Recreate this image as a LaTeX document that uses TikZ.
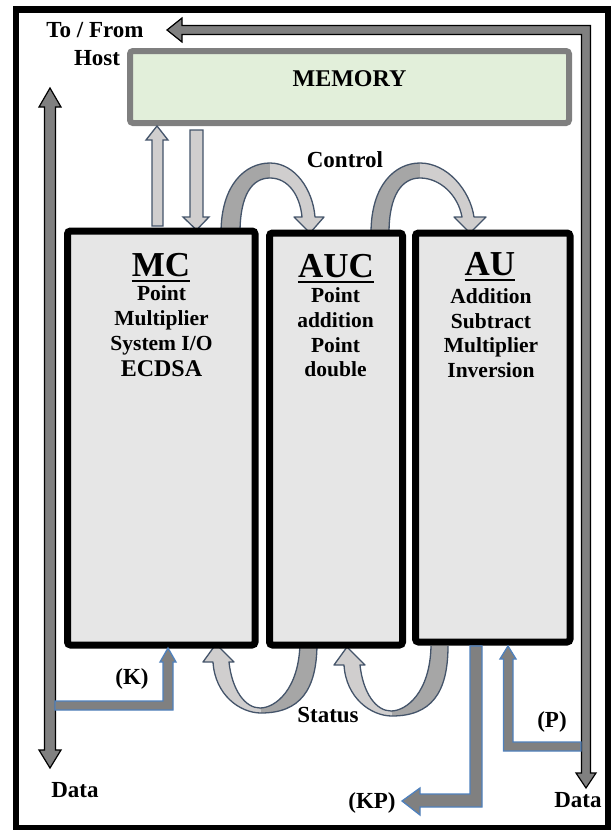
\documentclass[tikz,border=0pt]{standalone}
\usepackage{fontspec}
\setmainfont{Liberation Serif}
\definecolor{boxgray}{HTML}{E6E6E6}
\definecolor{memgreen}{HTML}{E2EFDA}
\definecolor{memedge}{HTML}{7F7F7F}
\definecolor{arrowgray}{HTML}{808080}
\definecolor{bluedge}{HTML}{4F81BD}
\definecolor{slate}{HTML}{44546A}
\definecolor{ribdark}{HTML}{A6A6A6}
\definecolor{riblight}{HTML}{D0CECE}
\begin{document}
\begin{tikzpicture}[x=1pt,y=-1pt,
  bigarrow/.style={fill=arrowgray, draw=black, line width=1.2pt},
  blockarrow/.style={fill=arrowgray, draw=bluedge, line width=1.3pt},
  memarrow/.style={fill=riblight, draw=slate, line width=1.3pt},
  ribedge/.style={draw=slate, line width=1.3pt, line join=round},
  unitbox/.style={draw=black, line width=7pt, fill=boxgray, rounded corners=3pt, inner sep=0pt},
  membox/.style={draw=memedge, line width=6pt, fill=memgreen, rounded corners=3pt, inner sep=0pt},
  lbl/.style={font=\fontsize{23}{23}\selectfont\bfseries, inner sep=0pt, anchor=base},
  ln/.style={font=\fontsize{21.5}{21.5}\selectfont\bfseries, inner sep=0pt, anchor=base},
  lnbig/.style={font=\fontsize{24}{24}\selectfont\bfseries, inner sep=0pt, anchor=base},
  ttl/.style={font=\fontsize{35}{35}\selectfont\bfseries, inner sep=0pt, anchor=base},
  uline/.style={line width=2.3pt}]
\useasboundingbox (0,0) rectangle (611,830);
% outer frame
\draw[line width=6.5pt] (16,9.3) rectangle (608,828);

% To/From Host <-> Data (right) arrow
\path[bigarrow] (167,30) -- (182,18) -- (182,25.5) -- (590.5,25.5) -- (590.5,773)
  -- (596,773) -- (586,788) -- (576,773) -- (581.5,773) -- (581.5,34.5)
  -- (182,34.5) -- (182,42) -- cycle;
% left Data double arrow
\path[bigarrow] (50,88) -- (61,107) -- (55.5,107) -- (55.5,750) -- (61,750)
  -- (50,768) -- (39,750) -- (44.5,750) -- (44.5,107) -- (39,107) -- cycle;

% memory
\node[membox, minimum width=439pt, minimum height=72pt] (mem) at (349.5,87) {};

% memory <-> MC arrows
\path[memarrow] (157,126) -- (168,140) -- (163,140) -- (163,226) -- (152,226)
  -- (152,140) -- (146,140) -- cycle;
\path[memarrow] (190,130) -- (203,130) -- (203,217) -- (209,217) -- (196.5,230)
  -- (183,217) -- (190,217) -- cycle;

% control arc 1 (MC -> AUC)
\path[fill=ribdark] (221,233) .. controls (221,185) and (245,163) .. (270,163)
  -- (270,178) .. controls (252,178) and (240,195) .. (240,233) -- cycle;
\path[fill=riblight] (270,163) .. controls (295,163) and (313,190) .. (315,217)
  -- (324,217) -- (310,233) -- (294,217) -- (302,217)
  .. controls (300,195) and (288,178) .. (270,178) -- cycle;
\path[ribedge] (221,233) .. controls (221,185) and (245,163) .. (270,163)
  .. controls (295,163) and (313,190) .. (315,217) -- (324,217) -- (310,233)
  -- (294,217) -- (302,217) .. controls (300,195) and (288,178) .. (270,178)
  .. controls (252,178) and (240,195) .. (240,233);
% control arc 2 (AUC -> AU)
\path[fill=ribdark] (371,233) .. controls (371,185) and (395,163) .. (420,163)
  -- (420,178) .. controls (402,178) and (389,195) .. (389,233) -- cycle;
\path[fill=riblight] (420,163) .. controls (447,163) and (470,190) .. (474,217)
  -- (486,217) -- (470,233) -- (454,217) -- (462,217)
  .. controls (458,195) and (440,178) .. (420,178) -- cycle;
\path[ribedge] (371,233) .. controls (371,185) and (395,163) .. (420,163)
  .. controls (447,163) and (470,190) .. (474,217) -- (486,217) -- (470,233)
  -- (454,217) -- (462,217) .. controls (458,195) and (440,178) .. (420,178)
  .. controls (402,178) and (389,195) .. (389,233);

% status arcs
\foreach \dx/\dy in {0/0, 131/3}{
\begin{scope}[shift={(\dx,\dy)}]
\path[fill=ribdark] (261,713) .. controls (300,713) and (317,690) .. (317,643)
  -- (300,643) .. controls (299,690) and (275,708) .. (260,708) -- cycle;
\path[fill=riblight] (213,662) .. controls (215,695) and (240,713) .. (261,713)
  -- (260,708) .. controls (245,708) and (232,690) .. (229,662)
  -- (234,662) -- (216,644) -- (203,662) -- cycle;
\path[ribedge] (317,643) .. controls (317,690) and (300,713) .. (261,713)
  .. controls (240,713) and (215,695) .. (213,662) -- (203,662) -- (216,644)
  -- (234,662) -- (229,662) .. controls (232,690) and (245,708) .. (260,708)
  .. controls (275,708) and (299,690) .. (300,643);
\end{scope}}

% units
\node[unitbox, minimum width=187.5pt, minimum height=414pt] (mc) at (161.25,438) {};
\node[unitbox, minimum width=133pt, minimum height=412pt] (auc) at (336,439) {};
\node[unitbox, minimum width=154.5pt, minimum height=409pt] (au) at (492.75,437.5) {};

% K, P, KP arrows
\path[blockarrow] (55,701) -- (163,701) -- (163,662) -- (160,662) -- (168,648)
  -- (176,662) -- (173,662) -- (173,710) -- (55,710) -- cycle;
\path[blockarrow] (581,742) -- (513,742) -- (513,659) -- (516,659) -- (508,646)
  -- (500,659) -- (503.5,659) -- (503.5,751) -- (581,751) -- cycle;
\path[blockarrow] (470,646) -- (482,646) -- (482,807) -- (420,807) -- (420,815)
  -- (402,801) -- (420,788) -- (420,794) -- (470,794) -- cycle;

% labels
\node[lbl] (tofrom) at (95,37) {To / From};
\node[lbl] (host) at (97,65) {Host};
\node[lnbig] (memt) at (349.5,86) {MEMORY};
\node[lbl] (ctrl) at (345,167) {Control};
\node[lbl] (stat) at (328,722) {Status};
\node[lbl] (klbl) at (132,684) {(K)};
\node[lbl] (plbl) at (552,727) {(P)};
\node[lbl] (kplbl) at (372,808) {(KP)};
\node[lbl] (dl) at (75,797) {Data};
\node[lbl] (dr) at (578,807) {Data};

% MC text
\node[ttl] (mct) at (161,276) {MC};
\draw[uline] ([yshift=-5pt]mct.base west) -- ([yshift=-5pt]mct.base east);
\node[ln] (mc1) at (161.5,300) {Point};
\node[ln] (mc2) at (161.5,325) {Multiplier};
\node[ln] (mc3) at (161.5,350) {System I/O};
\node[lnbig] (mc4) at (161.5,376) {ECDSA};
% AUC text
\node[ttl] (auct) at (336,277) {AUC};
\draw[uline] ([yshift=-5pt]auct.base west) -- ([yshift=-5pt]auct.base east);
\node[ln] (auc1) at (335.5,302) {Point};
\node[ln] (auc2) at (335.5,327) {addition};
\node[ln] (auc3) at (335.5,352) {Point};
\node[ln] (auc4) at (335.5,376) {double};
% AU text
\node[ttl] (aut) at (490,275) {AU};
\draw[uline] ([yshift=-5pt]aut.base west) -- ([yshift=-5pt]aut.base east);
\node[ln] (au1) at (491,303) {Addition};
\node[ln] (au2) at (491,328) {Subtract};
\node[ln] (au3) at (491,352) {Multiplier};
\node[ln] (au4) at (491,377) {Inversion};
\end{tikzpicture}
\end{document}
